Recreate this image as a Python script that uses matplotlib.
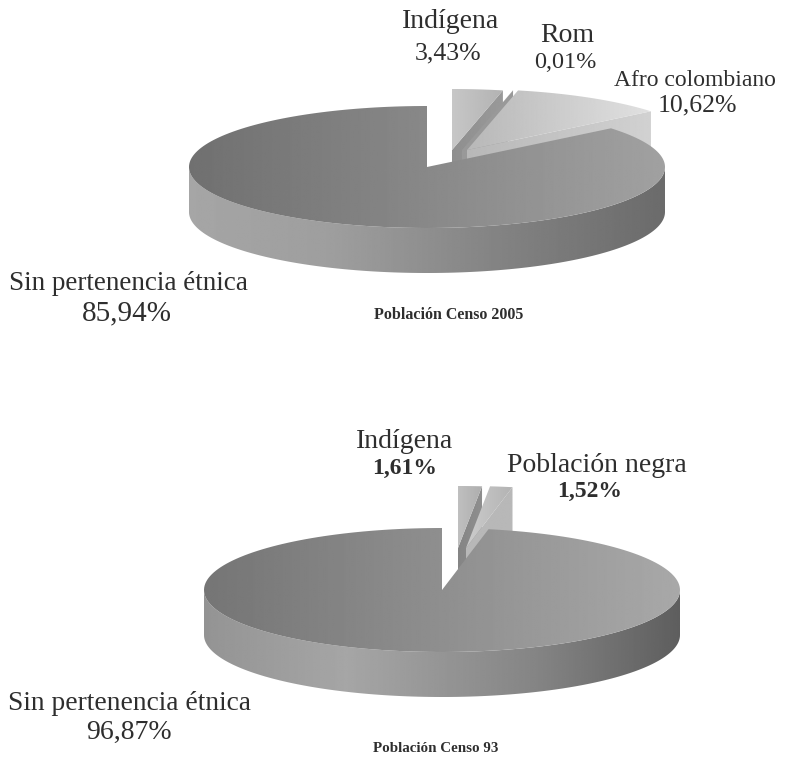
import numpy as np
import matplotlib
matplotlib.use('Agg')
import matplotlib.pyplot as plt

# values
labels_2005 = ['Indígena', 'Rom', 'Afro colombiano', 'Sin pertenencia étnica']
values_2005 = [3.43, 0.01, 10.62, 85.94]
pcts_2005 = ['3,43%', '0,01%', '10,62%', '85,94%']
title_2005 = 'Población Censo 2005'

labels_93 = ['Indígena', 'Población negra', 'Sin pertenencia étnica']
values_93 = [1.61, 1.52, 96.87]
pcts_93 = ['1,61%', '1,52%', '96,87%']
title_93 = 'Población Censo 93'

RX = 238
RY = 61
DEPTH = 45
TEXT = '#2e2e2e'
plt.rcParams['font.family'] = ['Liberation Serif', 'DejaVu Serif']

fig = plt.figure(figsize=(7.89, 7.58), dpi=100)
ax = fig.add_axes([0, 0, 1, 1])


def rim(cx, cy, a0, a1, ry=RY):
    # angles in degrees, clockwise from the top
    t = np.radians(np.linspace(a0, a1, 200))
    return np.column_stack([cx + RX * np.sin(t), cy - ry * np.cos(t)])


def fill(points, stops, shades):
    # polygon with a left to right gray gradient
    x0, y0 = points.min(axis=0)
    x1, y1 = points.max(axis=0)
    grad = np.interp(np.linspace(0, 1, 256), stops, shades).reshape(1, -1)
    im = ax.imshow(grad, cmap='gray', vmin=0, vmax=1, aspect='auto',
                   extent=(x0, x1, y1, y0), interpolation='bilinear')
    patch = plt.Polygon(points, closed=True, fc='none', ec='none')
    ax.add_patch(patch)
    im.set_clip_path(patch)


def small_slice(apex, a0, a1, top, face, ry=RY):
    cx, cy = apex
    arc = rim(cx, cy, a0, a1, ry)
    # cut face under the right edge of the slice
    end = arc[-1]
    wall = np.array([[cx, cy], end, end + [0, DEPTH], [cx, cy + DEPTH]])
    fill(wall, [0, 1], face)
    fill(np.vstack([[apex], arc]), [0, 1], top)


def big_slice(center, a0, top, side_stops, side, ry=RY):
    cx, cy = center
    front = rim(cx, cy, 90, 270, ry)
    fill(np.vstack([front, front[::-1] + [0, DEPTH]]), side_stops, side)
    fill(np.vstack([[center], rim(cx, cy, a0, 360, ry)]), [0, 1], top)


def angles(values):
    edges = np.cumsum([0] + values) * 3.6
    return edges[:-1], edges[1:]


def label(x, y, s, size, weight='normal'):
    ax.text(x, y, s, fontsize=size, fontweight=weight, color=TEXT, ha='center', va='center')


# Censo 2005
a0, a1 = angles(values_2005)
small_slice((452, 150), a0[0], a1[0], (0.78, 0.70), (0.56, 0.60))
small_slice((462, 150), a0[1], a1[1], (0.60, 0.60), (0.60, 0.60))
small_slice((467, 150), a0[2], a1[2], (0.72, 0.88), (0.72, 0.82))
big_slice((427, 167), a0[3], (0.44, 0.63),
          [0, 0.3, 0.7, 1], (0.65, 0.62, 0.50, 0.42))

# Censo 93
a0, a1 = angles(values_93)
small_slice((458, 548), a0[0], a1[0], (0.75, 0.68), (0.52, 0.56), 62)
small_slice((466, 548), a0[1], a1[1], (0.80, 0.70), (0.72, 0.72), 62)
big_slice((442, 590), a0[2], (0.46, 0.66),
          [0, 0.3, 0.7, 1], (0.58, 0.65, 0.52, 0.37), 62)

label(451, 21, labels_2005[0], 20)
label(448, 53, pcts_2005[0], 18.5)
label(567, 35, labels_2005[1], 20)
label(565, 63, pcts_2005[1], 17.5)
label(695, 80, labels_2005[2], 17)
label(697, 105, pcts_2005[2], 18.5)
label(128, 284, labels_2005[3], 19.5)
label(127, 313, pcts_2005[3], 21)
label(449, 315, title_2005, 11.5, 'bold')

label(405, 441, labels_93[0], 20)
label(405, 468, pcts_93[0], 17, 'bold')
label(597, 465, labels_93[1], 20)
label(590, 491, pcts_93[1], 17, 'bold')
label(130, 703, labels_93[2], 19.8)
label(129, 732, pcts_93[2], 20)
label(436, 749, title_93, 10.8, 'bold')

ax.set_xlim(0, 789)
ax.set_ylim(758, 0)
ax.axis('off')
fig.savefig('out.png', dpi=100)
